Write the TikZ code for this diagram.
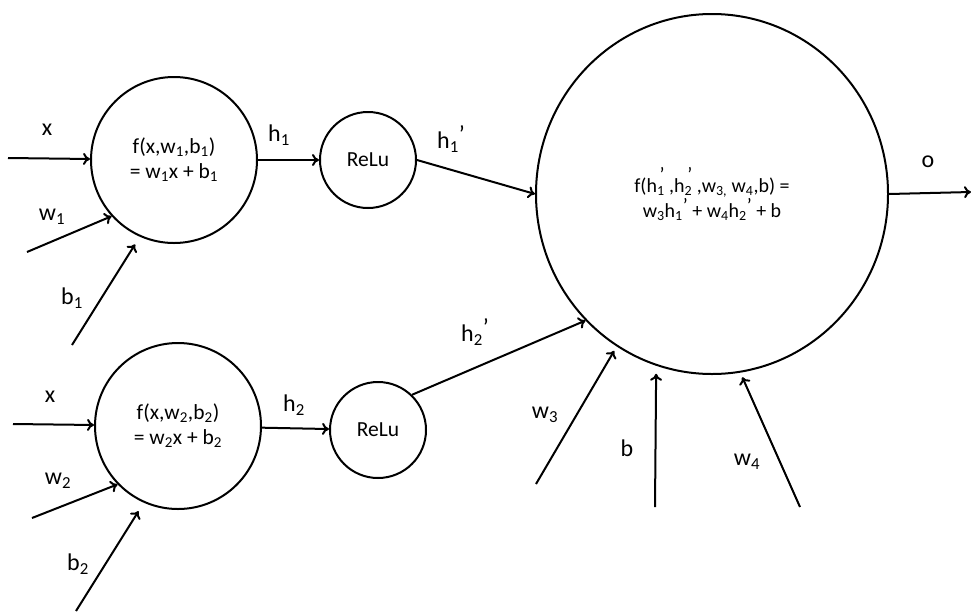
\documentclass[tikz,border=0pt]{standalone}
\usepackage{fontspec}
\setmainfont{Carlito}
\usetikzlibrary{arrows.meta,shapes.geometric}
\newcommand\subpr[1]{\textsubscript{#1}\llap{\raisebox{1.1ex}{’}}}
\newcommand\subsp[1]{\textsubscript{#1}\raisebox{0.5ex}{’}}
\begin{document}
\begin{tikzpicture}[x=1pt,y=-1pt,
  arr/.style={line width=2pt,-{To[length=7pt,width=12pt,line width=2pt]}},
  neuron/.style={circle,draw,line width=2pt,inner sep=0pt,align=center},
  lbl/.style={font=\fontsize{24}{26}\selectfont,inner sep=0pt},
  ntext/.style={font=\fontsize{21.5}{25}\selectfont},
]
\useasboundingbox (0,0) rectangle (971,611);
% nodes
\node[neuron,minimum size=166pt,ntext] (c1) at (174,160) {f(x,w\textsubscript{1},b\textsubscript{1})\\= w\textsubscript{1}x + b\textsubscript{1}};
\node[neuron,minimum size=166pt,ntext] (c2) at (178,426) {f(x,w\textsubscript{2},b\textsubscript{2})\\= w\textsubscript{2}x + b\textsubscript{2}};
\node[neuron,minimum size=96pt,ntext] (r1) at (368,160) {ReLu};
\node[neuron,minimum size=96pt,ntext] (r2) at (378,430) {ReLu};
\node[ellipse,draw,line width=2pt,inner sep=0pt,minimum width=352pt,minimum height=360pt,align=center,font=\fontsize{20}{25}\selectfont] (big) at (712,194)
  {f(h\subpr{1} ,h\subpr{2} ,w\textsubscript{3,} w\textsubscript{4},b) =\\w\textsubscript{3}h\subsp{1} + w\textsubscript{4}h\subsp{2} + b};
% free ends
\coordinate (x1s) at (8,158);
\coordinate (w1s) at (27,252);
\coordinate (b1s) at (72,345);
\coordinate (x2s) at (13,424);
\coordinate (w2s) at (32,518);
\coordinate (b2s) at (76,611);
\coordinate (w3s) at (536,484);
\coordinate (bs) at (655,507);
\coordinate (w4s) at (800,507);
\coordinate (oe) at (971,192);
% connectors
\draw[arr] (x1s) -- (c1);
\draw[arr] (w1s) -- (c1.222);
\draw[arr,shorten >=9pt] (b1s) -- (c1.246);
\draw[arr] (x2s) -- (c2);
\draw[arr] (w2s) -- (c2.224);
\draw[arr,shorten >=10pt] (b2s) -- (c2.246);
\draw[arr] (c1) -- (r1);
\draw[arr] (c2) -- (r2);
\draw[arr] (r1.east) -- (big.west);
\draw[arr] (r2.46) -- (big.225);
\draw[arr,shorten >=5pt] (w3s) -- (big.238);
\draw[arr,shorten >=8pt] (bs) -- (big.252.5);
\draw[arr,shorten >=5pt] (w4s) -- (big.279.6);
\draw[arr] (big.east) -- (oe);
% labels
\node[lbl] (lx1) at (47,130) {x};
\node[lbl] (lw1) at (52,217) {w\textsubscript{1}};
\node[lbl] (lb1) at (72,298) {b\textsubscript{1}};
\node[lbl] (lh1) at (279,135) {h\textsubscript{1}};
\node[lbl] (lh1p) at (451,139) {h\subsp{1}};
\node[lbl] (lx2) at (50,397) {x};
\node[lbl] (lw2) at (58,481) {w\textsubscript{2}};
\node[lbl] (lb2) at (78,564) {b\textsubscript{2}};
\node[lbl] (lh2) at (294,405) {h\textsubscript{2}};
\node[lbl] (lh2p) at (475,332) {h\subsp{2}};
\node[lbl] (lw3) at (545,415) {w\textsubscript{3}};
\node[lbl] (lb) at (627,448) {b};
\node[lbl] (lw4) at (747,462) {w\textsubscript{4}};
\node[lbl] (lo) at (928,162) {o};
\end{tikzpicture}
\end{document}
